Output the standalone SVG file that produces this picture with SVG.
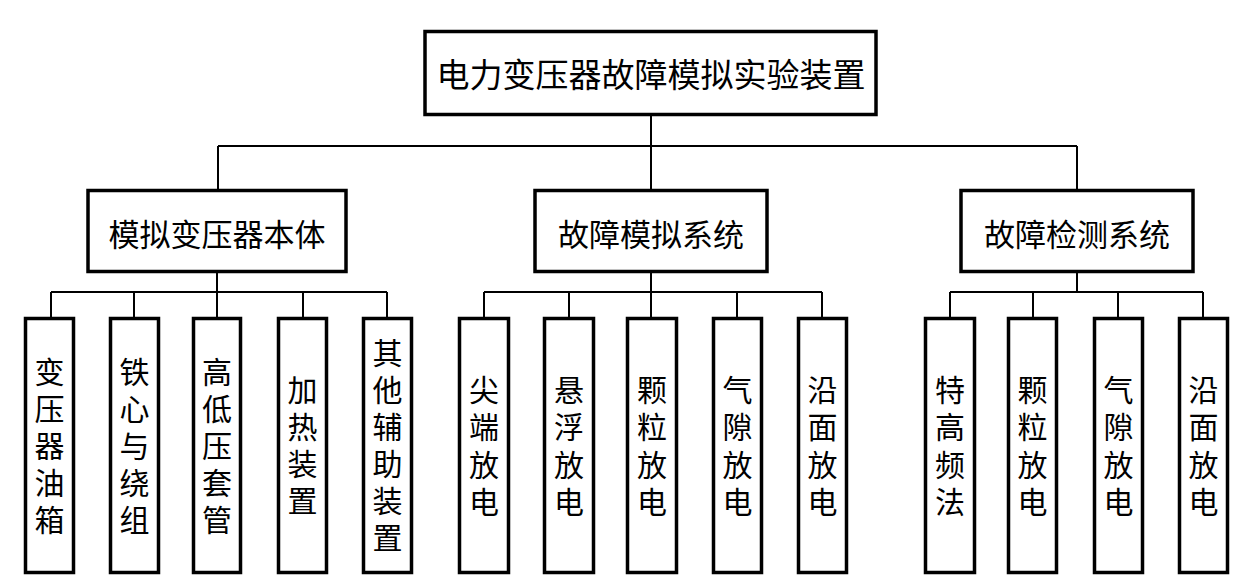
<svg xmlns="http://www.w3.org/2000/svg" width="1249" height="584" viewBox="0 0 1249 584">
<style>
.box{fill:#fff;stroke:#000;stroke-width:3.5}
.ln{fill:none;stroke:#000;stroke-width:2}
text{font-family:"Noto Sans CJK SC","Noto Sans CJK JP",sans-serif;fill:#000;text-anchor:middle;dominant-baseline:central}
.t0{font-size:33px}
.t1{font-size:31px}
.v{font-size:30px;writing-mode:vertical-rl;letter-spacing:7px}
.v4{letter-spacing:7.5px}
</style>
<rect width="1249" height="584" fill="#fff"/>
<g id="connectors">
<path class="ln" d="M651,116V146M218,146H1077M218,146V189M651,146V189M1077,146V189"/>
<path class="ln" d="M217,273V292M51,292H387M51,292V317M134,292V317M217,292V317M303,292V317M387,292V317"/>
<path class="ln" d="M651,273V292M484,292H822M484,292V317M569,292V317M651,292V317M737,292V317M822,292V317"/>
<path class="ln" d="M1077,273V292M950,292H1203M950,292V317M1033,292V317M1118,292V317M1203,292V317"/>
</g>
<g id="root"><rect class="box" x="425" y="31.5" width="451" height="83"/><text class="t0" x="651" y="73">电力变压器故障模拟实验装置</text></g>
<g id="n1"><rect class="box" x="88" y="190.5" width="258" height="81"/><text class="t1" x="217" y="232">模拟变压器本体</text></g>
<g id="n2"><rect class="box" x="535" y="190.5" width="232" height="81"/><text class="t1" x="651" y="232">故障模拟系统</text></g>
<g id="n3"><rect class="box" x="961" y="190.5" width="232" height="81"/><text class="t1" x="1077" y="232">故障检测系统</text></g>
<g id="l1"><rect class="box" x="25.5" y="318.5" width="48" height="254"/><text class="v" x="49.5" y="449">变压器油箱</text></g>
<g id="l2"><rect class="box" x="110.5" y="318.5" width="48" height="254"/><text class="v" x="134.5" y="449">铁心与绕组</text></g>
<g id="l3"><rect class="box" x="193.5" y="318.5" width="47" height="254"/><text class="v" x="217" y="449">高低压套管</text></g>
<g id="l4"><rect class="box" x="278.5" y="318.5" width="48" height="254"/><text class="v" x="302.5" y="449">加热装置</text></g>
<g id="l5"><rect class="box" x="363.5" y="318.5" width="48" height="254"/><text class="v" x="387.5" y="449">其他辅助装置</text></g>
<g id="m1"><rect class="box" x="459.5" y="318.5" width="49" height="254"/><text class="v v4" x="484" y="449.5">尖端放电</text></g>
<g id="m2"><rect class="box" x="544.5" y="318.5" width="49" height="254"/><text class="v v4" x="569" y="449.5">悬浮放电</text></g>
<g id="m3"><rect class="box" x="627.5" y="318.5" width="49" height="254"/><text class="v v4" x="652" y="449.5">颗粒放电</text></g>
<g id="m4"><rect class="box" x="713.5" y="318.5" width="48" height="254"/><text class="v v4" x="737.5" y="449.5">气隙放电</text></g>
<g id="m5"><rect class="box" x="798.5" y="318.5" width="48" height="254"/><text class="v v4" x="822.5" y="449.5">沿面放电</text></g>
<g id="r1"><rect class="box" x="925.5" y="318.5" width="49" height="254"/><text class="v v4" x="950" y="449.5">特高频法</text></g>
<g id="r2"><rect class="box" x="1008.5" y="318.5" width="48" height="254"/><text class="v v4" x="1032.5" y="449.5">颗粒放电</text></g>
<g id="r3"><rect class="box" x="1094.5" y="318.5" width="48" height="254"/><text class="v v4" x="1118.5" y="449.5">气隙放电</text></g>
<g id="r4"><rect class="box" x="1179.5" y="318.5" width="48" height="254"/><text class="v v4" x="1203.5" y="449.5">沿面放电</text></g>
</svg>
